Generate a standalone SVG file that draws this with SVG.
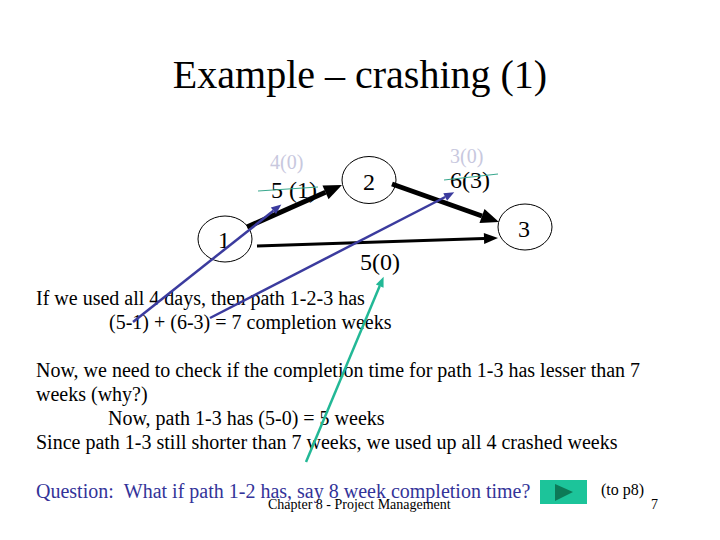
<svg xmlns="http://www.w3.org/2000/svg" width="720" height="540" viewBox="0 0 720 540">
<style>
text{font-family:"Liberation Serif","Times New Roman",serif;fill:#000}
.node{fill:none;stroke:#000;stroke-width:1}
.nl{font-size:24px;text-anchor:middle}
.old{font-size:24px}
.new{font-size:20px;fill:#c8c8de}
.body{font-size:20px}
.strike{stroke:#3aa88e;stroke-width:1.2}
.blue{stroke:#3b3b9e;stroke-width:2.5;fill:none}
.teal{stroke:#22b896;stroke-width:2.5;fill:none}
</style>
<defs>
<marker id="hBig" markerUnits="userSpaceOnUse" markerWidth="20" markerHeight="20" refX="0" refY="0" orient="auto" viewBox="-1 -8 20 16" overflow="visible"><path d="M0,-7.5 L18,0 L0,7.5 z" fill="#000"/></marker>
<marker id="hMid" markerUnits="userSpaceOnUse" markerWidth="16" markerHeight="14" refX="0" refY="0" orient="auto" viewBox="-1 -6 16 12" overflow="visible"><path d="M0,-5.5 L14,0 L0,5.5 z" fill="#000"/></marker>
<marker id="hBlue" markerUnits="userSpaceOnUse" markerWidth="12" markerHeight="10" refX="0" refY="0" orient="auto" viewBox="-1 -5 13 10" overflow="visible"><path d="M0,-4.5 L11,0 L0,4.5 z" fill="#3b3b9e"/></marker>
<marker id="hTeal" markerUnits="userSpaceOnUse" markerWidth="12" markerHeight="10" refX="0" refY="0" orient="auto" viewBox="-1 -5 13 10" overflow="visible"><path d="M0,-4.5 L11,0 L0,4.5 z" fill="#22b896"/></marker>
</defs>
<rect width="720" height="540" fill="#fff"/>
<text x="360" y="88" style="font-size:40px" text-anchor="middle">Example – crashing (1)</text>
<g id="connectors">
<line x1="247" y1="227" x2="325.5" y2="192.3" stroke="#000" stroke-width="5" marker-end="url(#hBig)"/>
<line x1="392" y1="184" x2="482" y2="216" stroke="#000" stroke-width="5" marker-end="url(#hBig)"/>
<line x1="257" y1="246" x2="484" y2="238.5" stroke="#000" stroke-width="3" marker-end="url(#hMid)"/>
</g>
<g id="node1"><ellipse class="node" cx="225" cy="239" rx="27" ry="23"/><text class="nl" x="224" y="248">1</text></g>
<g id="node2"><ellipse class="node" cx="369" cy="180" rx="27" ry="23.5"/><text class="nl" x="369" y="190">2</text></g>
<g id="node3"><ellipse class="node" cx="525" cy="227" rx="27" ry="23"/><text class="nl" x="524" y="237">3</text></g>
<g id="edge-labels">
<text class="new" x="270" y="169">4(0)</text>
<text class="old" x="271" y="198">5 (1)</text>
<line class="strike" x1="258" y1="191" x2="318" y2="187"/>
<text class="new" x="450" y="163">3(0)</text>
<text class="old" x="450" y="188">6(3)</text>
<line class="strike" x1="444" y1="180" x2="498" y2="174"/>
<text class="old" x="360" y="270">5(0)</text>
</g>
<g id="body">
<text class="body" x="36" y="305">If we used all 4 days, then path 1-2-3 has</text>
<text class="body" x="109" y="329">(5-1) + (6-3) = 7 completion weeks</text>
<text class="body" x="36" y="377">Now, we need to check if the completion time for path 1-3 has lesser than 7</text>
<text class="body" x="36" y="401">weeks (why?)</text>
<text class="body" x="108" y="425">Now, path 1-3 has (5-0) = 5 weeks</text>
<text class="body" x="36" y="449">Since path 1-3 still shorter than 7 weeks, we used up all 4 crashed weeks</text>
<text class="body" x="36" y="498" style="fill:#333399">Question: &#160;What if path 1-2 has, say 8 week completion time?</text>
<text x="268" y="509" style="font-size:14px">Chapter 8 - Project Management</text>
<text x="601" y="495" style="font-size:16px">(to p8)</text>
<text x="651" y="509" style="font-size:14px">7</text>
</g>
<g id="play-button">
<rect x="540" y="480" width="47" height="24" fill="#1cc49a"/>
<path d="M555,484 L573,492 L555,501 z" fill="#0d7a57"/>
</g>
<g id="annotation-arrows">
<line class="blue" x1="133" y1="322" x2="273.4" y2="210.8" marker-end="url(#hBlue)"/>
<line class="blue" x1="210" y1="318" x2="445.2" y2="197" marker-end="url(#hBlue)"/>
<line class="teal" x1="306" y1="462" x2="379.7" y2="286.1" marker-end="url(#hTeal)"/>
</g>
</svg>
